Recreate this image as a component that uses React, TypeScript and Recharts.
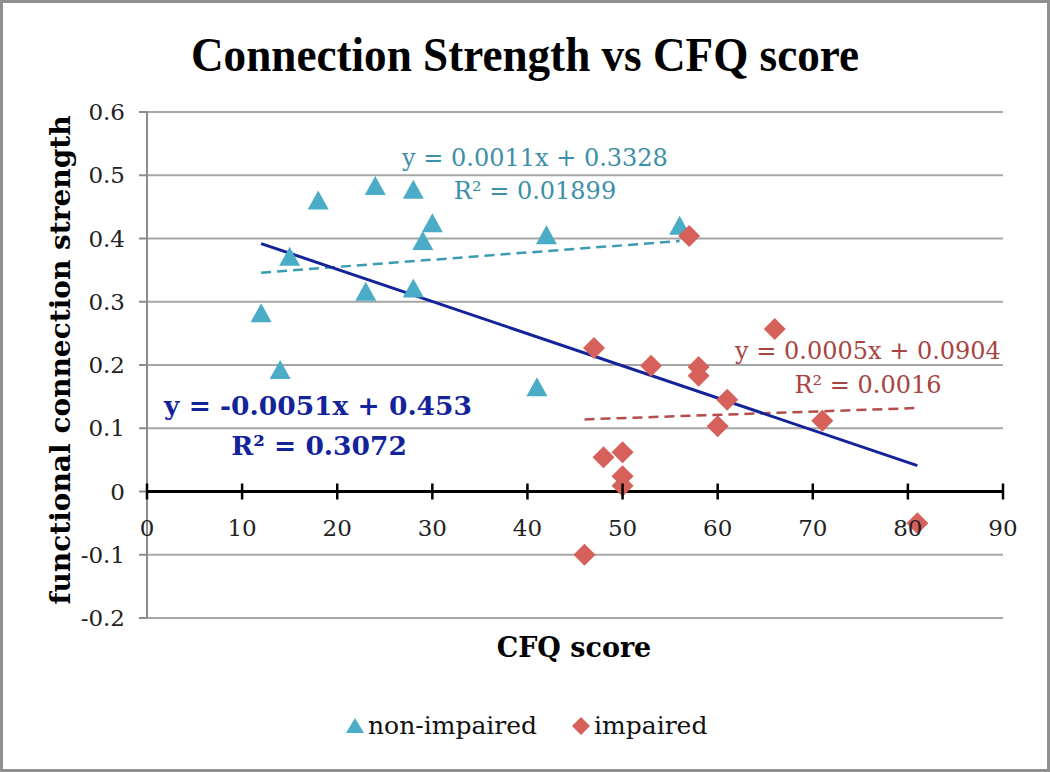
import {
  CartesianGrid,
  Legend,
  ReferenceLine,
  Scatter,
  ScatterChart,
  XAxis,
  YAxis,
} from "recharts";

// CFQ score and connection strength
const nonImpairedX = [12, 14, 15, 18, 23, 24, 28, 28, 29, 30, 41, 42, 56];
const nonImpairedY = [0.282, 0.192, 0.371, 0.46, 0.316, 0.483, 0.477, 0.321, 0.396, 0.424, 0.165, 0.405, 0.42];

const impairedX = [57, 47, 53, 58, 58, 66, 61, 60, 71, 48, 50, 50, 50, 46, 81];
const impairedY = [0.404, 0.227, 0.199, 0.197, 0.183, 0.257, 0.145, 0.103, 0.112, 0.054, 0.062, 0.024, 0.009, -0.1, -0.05];

// trendline end points (x, y)
const allFitX = [12, 81];
const allFitY = [0.392, 0.041];
const nonFitX = [12, 56];
const nonFitY = [0.346, 0.396];
const impFitX = [46, 81];
const impFitY = [0.114, 0.132];

const xTicks = [0, 10, 20, 30, 40, 50, 60, 70, 80, 90];
const yTicks = [-0.2, -0.1, 0, 0.1, 0.2, 0.3, 0.4, 0.5, 0.6];

const TEAL = "#4aacc6";
const RED = "#d6605a";
const NAVY = "#13239a";
const SERIF = "'DejaVu Serif', serif";

const W = 1050;
const H = 772;
const TOP = 112;
const PLOT_H = 506;
// pixel row of y = 0 (x axis crosses there)
const ZERO_Y = TOP + PLOT_H * (0.6 / 0.8);

const nonImpaired = nonImpairedX.map((x, i) => ({ x, y: nonImpairedY[i] }));
const impaired = impairedX.map((x, i) => ({ x, y: impairedY[i] }));

function Triangle(props: any) {
  const { cx, cy } = props;
  return (
    <polygon
      points={`${cx},${cy - 10} ${cx + 10.5},${cy + 9} ${cx - 10.5},${cy + 9}`}
      fill={TEAL}
    />
  );
}

function Diamond(props: any) {
  const { cx, cy } = props;
  return (
    <polygon
      points={`${cx},${cy - 11} ${cx + 11},${cy} ${cx},${cy + 11} ${cx - 11},${cy}`}
      fill={RED}
    />
  );
}

function XTick(props: any) {
  const { x, payload } = props;
  return (
    <g>
      <line x1={x} x2={x} y1={ZERO_Y - 8} y2={ZERO_Y + 8} stroke="#000" strokeWidth={2.5} />
      <text
        x={x}
        y={ZERO_Y + 44}
        textAnchor="middle"
        fontFamily={SERIF}
        fontSize={23}
        fill="#222"
      >
        {payload.value}
      </text>
    </g>
  );
}

function LegendContent() {
  return (
    <div style={{ display: "flex", alignItems: "center", fontFamily: SERIF, fontSize: 25, color: "#111", lineHeight: "30px" }}>
      <svg width={20} height={18} style={{ marginRight: 3 }}>
        <polygon points="10,1 19,16 1,16" fill={TEAL} />
      </svg>
      <span>non-impaired</span>
      <svg width={20} height={20} style={{ marginLeft: 34, marginRight: 3 }}>
        <polygon points="10,1 19,10 10,19 1,10" fill={RED} />
      </svg>
      <span>impaired</span>
    </div>
  );
}

export default function App() {
  return (
    <div style={{ position: "absolute", left: 0, top: 0, width: W, height: H, background: "#fff" }}>
      <ScatterChart
        width={W}
        height={H}
        margin={{ top: TOP, right: 47, bottom: H - TOP - PLOT_H - 30, left: 0 }}
      >
        <CartesianGrid horizontal vertical={false} stroke="#a6a6a6" strokeWidth={2} />
        <XAxis
          type="number"
          dataKey="x"
          domain={[0, 90]}
          ticks={xTicks}
          height={30}
          axisLine={false}
          tickLine={false}
          tick={<XTick />}
          interval={0}
        />
        <YAxis
          type="number"
          dataKey="y"
          domain={[-0.2, 0.6]}
          ticks={yTicks}
          width={147}
          tickSize={8}
          tickMargin={14}
          interval={0}
          axisLine={{ stroke: "#8c8c8c", strokeWidth: 2 }}
          tickLine={{ stroke: "#8c8c8c", strokeWidth: 2 }}
          tick={{ fill: "#222", fontSize: 23, fontFamily: SERIF }}
        />
        <ReferenceLine y={0} stroke="#000" strokeWidth={3} />
        <Scatter
          name="non-impaired"
          data={nonImpaired}
          shape={<Triangle />}
          isAnimationActive={false}
        />
        <Scatter
          name="impaired"
          data={impaired}
          shape={<Diamond />}
          isAnimationActive={false}
        />
        <ReferenceLine
          segment={[
            { x: nonFitX[0], y: nonFitY[0] },
            { x: nonFitX[1], y: nonFitY[1] },
          ]}
          stroke="#3a9cb2"
          strokeWidth={2.5}
          strokeDasharray="10 6"
          ifOverflow="visible"
        />
        <ReferenceLine
          segment={[
            { x: impFitX[0], y: impFitY[0] },
            { x: impFitX[1], y: impFitY[1] },
          ]}
          stroke="#b24d4a"
          strokeWidth={2.5}
          strokeDasharray="10 6"
          ifOverflow="visible"
        />
        <ReferenceLine
          segment={[
            { x: allFitX[0], y: allFitY[0] },
            { x: allFitX[1], y: allFitY[1] },
          ]}
          stroke={NAVY}
          strokeWidth={3}
          ifOverflow="visible"
        />
        <Legend
          layout="horizontal"
          verticalAlign="middle"
          align="center"
          content={<LegendContent />}
          wrapperStyle={{ top: 711, left: 345, width: "auto" }}
        />
      </ScatterChart>

      <svg
        width={W}
        height={H}
        style={{ position: "absolute", left: 0, top: 0, pointerEvents: "none" }}
      >
        <text
          x={525}
          y={71}
          textAnchor="middle"
          fontFamily="'Liberation Serif', serif"
          fontWeight="bold"
          fontSize={48}
          textLength={668}
          lengthAdjust="spacingAndGlyphs"
          fill="#000"
        >
          Connection Strength vs CFQ score
        </text>
        <text
          transform="translate(70,360) rotate(-90)"
          textAnchor="middle"
          fontFamily={SERIF}
          fontWeight="bold"
          fontSize={28}
          fill="#000"
        >
          functional connection strength
        </text>
        <text
          x={574}
          y={657}
          textAnchor="middle"
          fontFamily={SERIF}
          fontWeight="bold"
          fontSize={27}
          fill="#000"
        >
          CFQ score
        </text>

        <g fontFamily={SERIF} fontSize={24} textAnchor="middle" fill="#3c8fa8">
          <text x={535} y={166}>y = 0.0011x + 0.3328</text>
          <text x={535} y={199}>R² = 0.01899</text>
        </g>
        <g fontFamily={SERIF} fontSize={24} textAnchor="middle" fill="#a8443f">
          <text x={868} y={359}>y = 0.0005x + 0.0904</text>
          <text x={868} y={393}>R² = 0.0016</text>
        </g>
        <g fontFamily={SERIF} fontSize={26.5} fontWeight="bold" textAnchor="middle" fill={NAVY}>
          <text x={318} y={415}>y = -0.0051x + 0.453</text>
          <text x={319} y={455}>R² = 0.3072</text>
        </g>
      </svg>

      <div
        style={{
          position: "absolute",
          left: 0,
          top: 0,
          width: W,
          height: H,
          boxSizing: "border-box",
          border: "3px solid #8f8f8f",
          pointerEvents: "none",
        }}
      />
    </div>
  );
}
